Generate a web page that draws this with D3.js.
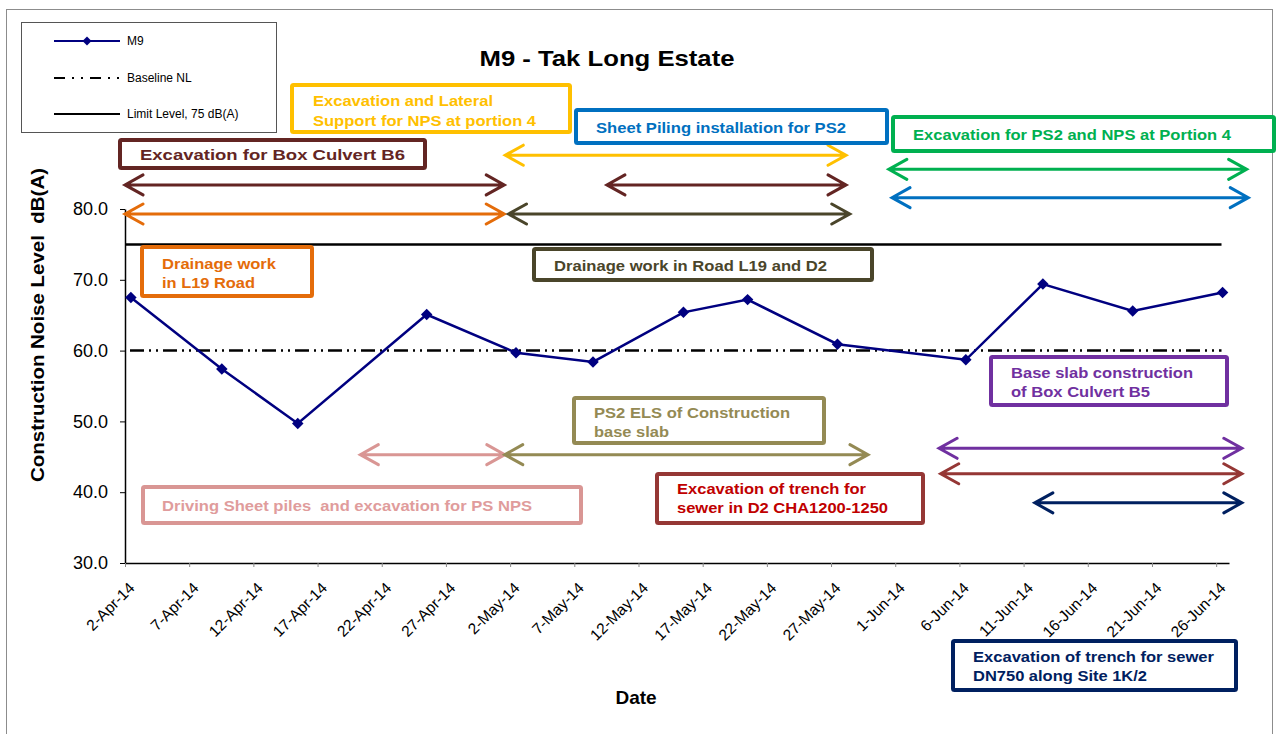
<!DOCTYPE html>
<html>
<head>
<meta charset="utf-8">
<script src="https://cdn.jsdelivr.net/npm/d3@7"></script>
<style>
  body { margin: 0; background: #fff; }
  text { font-family: Arial, "Liberation Sans", sans-serif; white-space: pre; }
</style>
</head>
<body>
<svg id="chart" width="1276" height="734"></svg>
<script>
// ---- data ----
var sampleDates = ["2014-04-02 11:00", "2014-04-09 13:00", "2014-04-15 11:00", "2014-04-25 12:00",
  "2014-05-02 11:00", "2014-05-08 11:00", "2014-05-15 12:00", "2014-05-20 12:00", "2014-05-27 12:00",
  "2014-06-06 12:00", "2014-06-12 12:00", "2014-06-19 12:00", "2014-06-26 12:00"];
var m9Levels = [67.5, 57.4, 49.7, 65.1, 59.7, 58.4, 65.4, 67.2, 60.9, 58.7, 69.4, 65.6, 68.2];

var baselineNL = 60;
var limitLevel = 75;
var refLineDates = ["2014-04-02 00:00", "2014-06-26 10:00"];

var yTickValues = [30, 40, 50, 60, 70, 80];
var xTickLabels = ["2-Apr-14", "7-Apr-14", "12-Apr-14", "17-Apr-14", "22-Apr-14", "27-Apr-14",
  "2-May-14", "7-May-14", "12-May-14", "17-May-14", "22-May-14", "27-May-14",
  "1-Jun-14", "6-Jun-14", "11-Jun-14", "16-Jun-14", "21-Jun-14", "26-Jun-14"];

// activity periods (double arrows): start, end, lane level in dB(A)
var activityStart = ["2014-04-02 00:00", "2014-04-02 00:00", "2014-05-01 15:00", "2014-05-09 13:00",
  "2014-05-01 21:00", "2014-05-31 12:00", "2014-05-31 18:00", "2014-04-20 08:00", "2014-05-01 14:00",
  "2014-06-04 10:00", "2014-06-04 13:00", "2014-06-11 21:00"];
var activityEnd = ["2014-05-01 13:00", "2014-05-01 13:00", "2014-05-28 04:00", "2014-05-28 04:00",
  "2014-05-28 11:00", "2014-06-28 09:00", "2014-06-28 12:00", "2014-05-01 14:00", "2014-05-29 21:00",
  "2014-06-28 00:00", "2014-06-28 00:00", "2014-06-28 00:00"];
var activityLane = [83.4, 79.3, 87.6, 83.4, 79.3, 85.6, 81.6, 45.3, 45.3, 46.2, 42.6, 38.5];
var activityColor = ["#632523", "#E46C0A", "#FFC000", "#632523", "#4A452A", "#00B050", "#0070C0",
  "#D99694", "#948A54", "#7030A0", "#953735", "#002060"];

// activity labels (boxes), layout in pixels
var notes = [
  {lines: ["Excavation and Lateral", "Support for NPS at portion 4"], widths: [180, 223], x: 292, y: 85, w: 278, h: 47, tx: 313, base: [106, 126], stroke: "#FFC000", fill: "#FFC000"},
  {lines: ["Sheet Piling installation for PS2"], widths: [250], x: 576, y: 110, w: 311, h: 33, tx: 596, base: [133], stroke: "#0070C0", fill: "#0070C0"},
  {lines: ["Excavation for PS2 and NPS at Portion 4"], widths: [318], x: 893, y: 117, w: 381, h: 34, tx: 913, base: [140], stroke: "#00B050", fill: "#00B050"},
  {lines: ["Excavation for Box Culvert B6"], widths: [265], x: 120, y: 140, w: 305, h: 28, tx: 140, base: [160], stroke: "#632523", fill: "#632523"},
  {lines: ["Drainage work", "in L19 Road"], widths: [114, 93], x: 142, y: 247, w: 170, h: 49, tx: 162, base: [269, 288], stroke: "#E46C0A", fill: "#E46C0A"},
  {lines: ["Drainage work in Road L19 and D2"], widths: [273], x: 534, y: 249, w: 338, h: 31, tx: 554, base: [271], stroke: "#4A452A", fill: "#4A452A"},
  {lines: ["Base slab construction", "of Box Culvert B5"], widths: [182, 139], x: 991, y: 357, w: 236, h: 48, tx: 1011, base: [378, 397], stroke: "#7030A0", fill: "#7030A0"},
  {lines: ["PS2 ELS of Construction", "base slab"], widths: [196, 75], x: 574, y: 398, w: 250, h: 45, tx: 594, base: [418, 437], stroke: "#948A54", fill: "#948A54"},
  {lines: ["Excavation of trench for", "sewer in D2 CHA1200-1250"], widths: [189, 211], x: 657, y: 474, w: 266, h: 49, tx: 677, base: [494, 513], stroke: "#953735", fill: "#C00000"},
  {lines: ["Driving Sheet piles  and excavation for PS NPS"], widths: [370], x: 143, y: 487, w: 438, h: 36, tx: 162, base: [511], stroke: "#D99694", fill: "#E09C9C"},
  {lines: ["Excavation of trench for sewer", "DN750 along Site 1K/2"], widths: [241, 174], x: 953, y: 641, w: 283, h: 49, tx: 973, base: [662, 681], stroke: "#002060", fill: "#002060"}
];

// ---- chart ----
var parseTime = d3.timeParse("%Y-%m-%d %H:%M");
var parseTick = d3.timeParse("%d-%b-%y");

var svg = d3.select("#chart");

var x = d3.scaleTime()
  .domain([parseTime("2014-04-02 00:00"), parseTime("2014-06-27 00:00")])
  .range([125, 1229]);
var y = d3.scaleLinear().domain([30, 80]).range([563, 209]);

// outer frame
svg.append("rect")
  .attr("x", 6.5).attr("y", 9.5).attr("width", 1266).attr("height", 740)
  .style("fill", "none").style("stroke", "#8c8c8c").style("stroke-width", 1);

// title
svg.append("text")
  .attr("x", 607).attr("y", 66)
  .attr("text-anchor", "middle")
  .attr("textLength", 255).attr("lengthAdjust", "spacingAndGlyphs")
  .style("font-size", "22px").style("font-weight", "bold")
  .text("M9 - Tak Long Estate");

// axes
var yAxis = svg.append("g")
  .attr("transform", "translate(125,0)")
  .call(d3.axisLeft(y).tickValues(yTickValues).tickFormat(d3.format(".1f")).tickSize(5).tickSizeOuter(0).tickPadding(12));
yAxis.select(".domain").style("stroke", "#000").style("stroke-width", 1.5);
yAxis.selectAll(".tick line").style("stroke", "#000");
yAxis.selectAll("text").style("font-size", "18px").style("font-family", "Arial, 'Liberation Sans', sans-serif").attr("fill", "#000");

var xAxis = svg.append("g")
  .attr("transform", "translate(0,563)")
  .call(d3.axisBottom(x).tickValues(xTickLabels.map(parseTick)).tickFormat(d3.timeFormat("%-d-%b-%y")).tickSize(4).tickSizeOuter(0));
xAxis.select(".domain").style("stroke", "#000").style("stroke-width", 1.5);
xAxis.selectAll(".tick line").style("stroke", "#888");
xAxis.selectAll("text")
  .attr("x", 0).attr("y", 0).attr("dy", 0)
  .attr("text-anchor", "end")
  .attr("transform", "translate(10,26) rotate(-45)")
  .style("font-size", "15.5px").style("font-family", "Arial, 'Liberation Sans', sans-serif").attr("fill", "#000");

// axis titles
svg.append("text")
  .attr("transform", "translate(44,325) rotate(-90)")
  .attr("text-anchor", "middle")
  .attr("textLength", 314).attr("lengthAdjust", "spacingAndGlyphs")
  .style("font-size", "18px").style("font-weight", "bold")
  .text("Construction Noise Level  dB(A)");

svg.append("text")
  .attr("x", 636).attr("y", 704)
  .attr("text-anchor", "middle")
  .style("font-size", "19px").style("font-weight", "bold")
  .text("Date");

// reference lines
var refX = refLineDates.map(parseTime);
svg.append("line")
  .attr("x1", x(refX[0])).attr("x2", x(refX[1]))
  .attr("y1", y(limitLevel)).attr("y2", y(limitLevel))
  .style("stroke", "#000").style("stroke-width", 2.5);
svg.append("line")
  .attr("x1", x(refX[0]) + 5).attr("x2", x(refX[1]))
  .attr("y1", y(baselineNL)).attr("y2", y(baselineNL))
  .style("stroke", "#000").style("stroke-width", 2.5)
  .style("stroke-dasharray", "14,5,2,5,2,5");

// activity arrows
var acts = activityStart.map(function(s, i) {
  return {x0: x(parseTime(s)), x1: x(parseTime(activityEnd[i])), y: y(activityLane[i]), c: activityColor[i]};
});
var ag = svg.append("g").attr("class", "arrows");
acts.forEach(function(a) {
  var hx = 18, hy = 10;
  var p = "M" + a.x0 + "," + a.y + "L" + a.x1 + "," + a.y +
    "M" + (a.x0 + hx) + "," + (a.y - hy) + "L" + a.x0 + "," + a.y + "L" + (a.x0 + hx) + "," + (a.y + hy) +
    "M" + (a.x1 - hx) + "," + (a.y - hy) + "L" + a.x1 + "," + a.y + "L" + (a.x1 - hx) + "," + (a.y + hy);
  ag.append("path").attr("d", p)
    .style("fill", "none").style("stroke", a.c).style("stroke-width", 3)
    .style("stroke-linecap", "round");
});

// note boxes
var ng = svg.append("g").attr("class", "notes");
notes.forEach(function(n) {
  ng.append("rect")
    .attr("x", n.x).attr("y", n.y).attr("width", n.w).attr("height", n.h)
    .attr("rx", 1.5)
    .style("fill", "#fff").style("stroke", n.stroke).style("stroke-width", 4);
  n.lines.forEach(function(t, i) {
    ng.append("text")
      .attr("x", n.tx).attr("y", n.base[i])
      .attr("textLength", n.widths[i]).attr("lengthAdjust", "spacingAndGlyphs")
      .style("font-size", "15px").style("font-weight", "bold")
      .style("fill", n.fill)
      .text(t);
  });
});

// M9 series
var series = sampleDates.map(function(d, i) { return {date: parseTime(d), v: m9Levels[i]}; });
svg.append("path")
  .datum(series)
  .attr("d", d3.line().x(function(d) { return x(d.date); }).y(function(d) { return y(d.v); }))
  .style("fill", "none").style("stroke", "#000080").style("stroke-width", 2.5);
svg.selectAll(".marker")
  .data(series)
  .enter().append("path")
  .attr("class", "marker")
  .attr("d", d3.symbol().type(d3.symbolSquare).size(66))
  .attr("transform", function(d) { return "translate(" + x(d.date) + "," + y(d.v) + ") rotate(45)"; })
  .style("fill", "#000080");

// legend
var lg = svg.append("g");
lg.append("rect")
  .attr("x", 21.5).attr("y", 22.5).attr("width", 255).attr("height", 110)
  .style("fill", "#fff").style("stroke", "#555").style("stroke-width", 1);
var legendY = [41, 78, 114];
lg.append("line").attr("x1", 54).attr("x2", 120).attr("y1", legendY[0]).attr("y2", legendY[0])
  .style("stroke", "#000080").style("stroke-width", 2);
lg.append("path").attr("d", d3.symbol().type(d3.symbolSquare).size(40))
  .attr("transform", "translate(87," + legendY[0] + ") rotate(45)").style("fill", "#000080");
lg.append("line").attr("x1", 54).attr("x2", 120).attr("y1", legendY[1]).attr("y2", legendY[1])
  .style("stroke", "#000").style("stroke-width", 2).style("stroke-dasharray", "11,7,2,7,2,7");
lg.append("line").attr("x1", 54).attr("x2", 120).attr("y1", legendY[2]).attr("y2", legendY[2])
  .style("stroke", "#000").style("stroke-width", 2);
["M9", "Baseline NL", "Limit Level, 75 dB(A)"].forEach(function(t, i) {
  lg.append("text").attr("x", 127).attr("y", legendY[i] + 4)
    .style("font-size", "12px").style("fill", "#000").text(t);
});
</script>
</body>
</html>
